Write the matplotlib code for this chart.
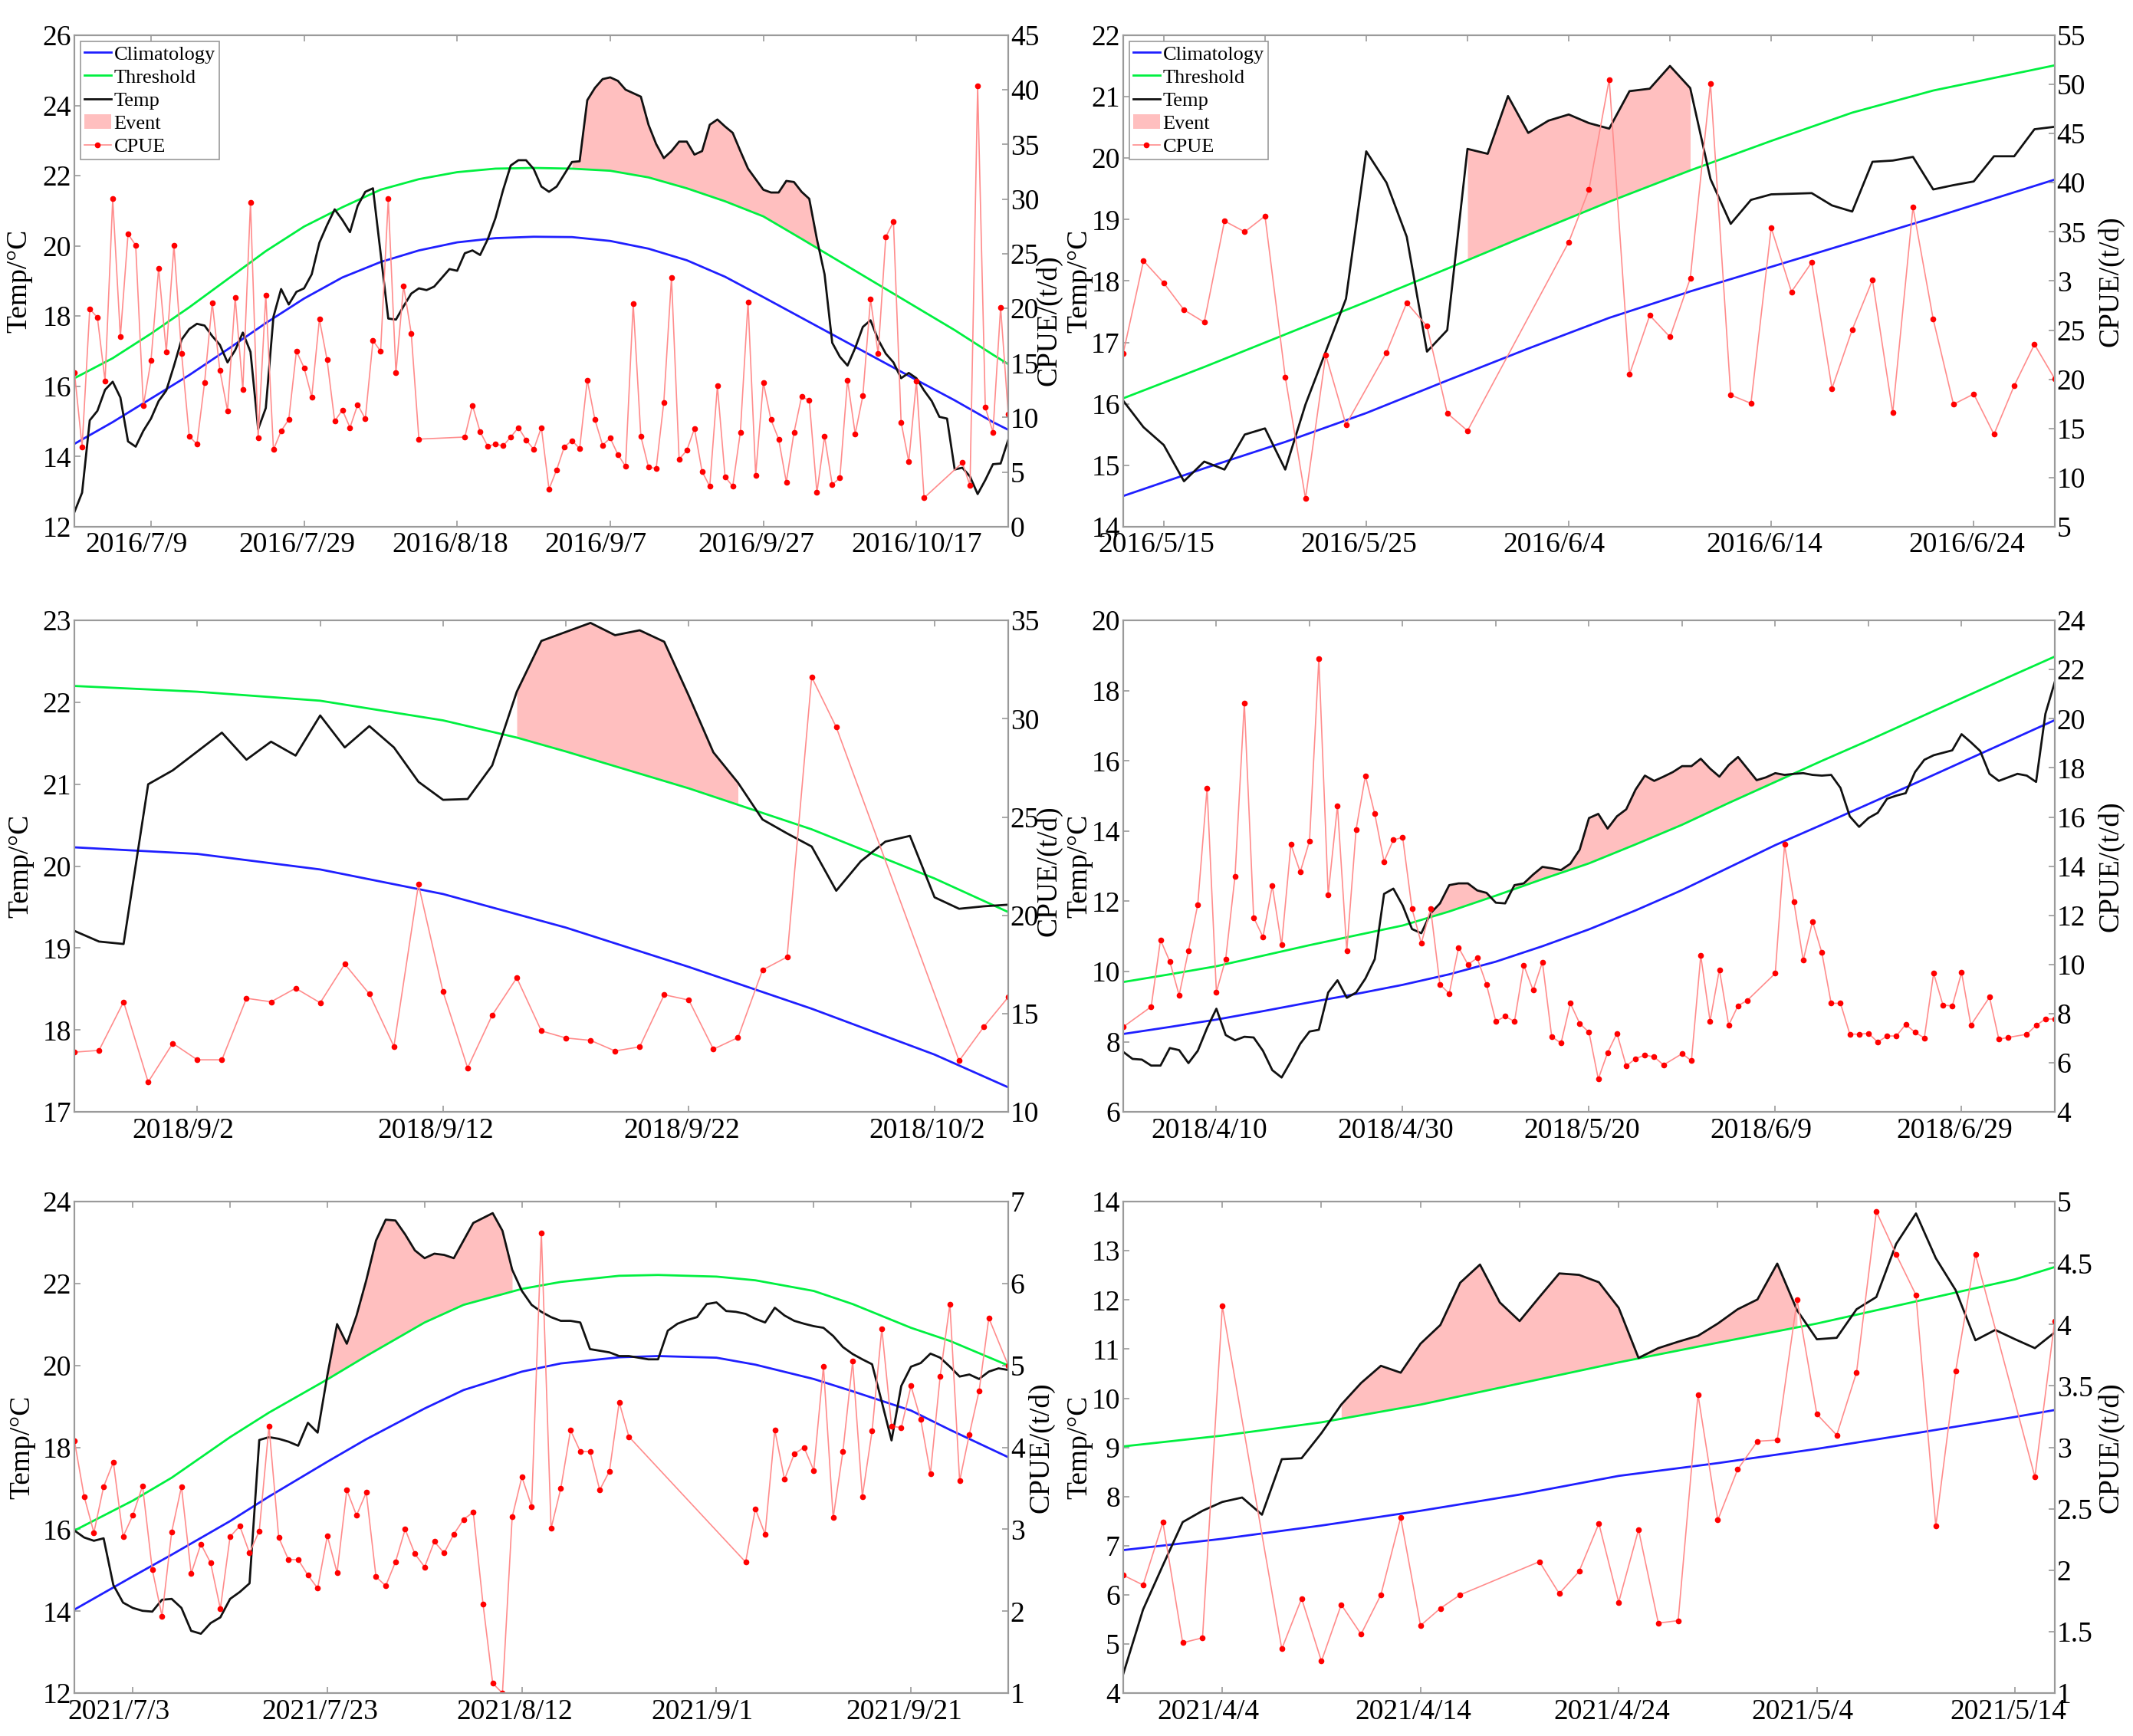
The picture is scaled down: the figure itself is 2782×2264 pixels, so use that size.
import numpy as np
import matplotlib
matplotlib.use('Agg')
import matplotlib.pyplot as plt
from matplotlib.lines import Line2D
from matplotlib.patches import Patch
from matplotlib.transforms import ScaledTranslation

plt.rcParams['font.family'] = ['Liberation Serif', 'DejaVu Serif']

BLUE = '#1f1fff'
GREEN = '#00f040'
EVENT = '#ffbfbf'
CPUE_LINE = '#ff8c8c'
RED = '#ff0000'
AXC = '#9a9a9a'
FS = 27

# ---------- panel 1 : 2016/6/29 - 2016/10/29 (daily temp) ----------
p1_temp = [12.42, 12.97, 15.03, 15.3, 15.9, 16.13, 15.68, 14.43, 14.28, 14.73,
           15.08, 15.58, 15.88, 16.58, 17.33, 17.63, 17.78, 17.73, 17.43, 17.18,
           16.68, 17.03, 17.53, 16.98, 14.78, 15.38, 17.98, 18.77, 18.33, 18.69,
           18.79, 19.19, 20.09, 20.59, 21.04, 20.74, 20.39, 21.14, 21.54, 21.64,
           19.79, 17.93, 17.9, 18.28, 18.64, 18.79, 18.74, 18.84, 19.09, 19.34,
           19.29, 19.79, 19.87, 19.74, 20.19, 20.79, 21.59, 22.29, 22.44, 22.44,
           22.19, 21.69, 21.54, 21.69, 22.04, 22.39, 22.41, 24.15, 24.5, 24.75,
           24.8, 24.7, 24.45, 24.35, 24.25, 23.45, 22.9, 22.5, 22.7, 22.97,
           22.97, 22.6, 22.7, 23.45, 23.6, 23.4, 23.22, 22.7, 22.2, 21.9,
           21.6, 21.52, 21.52, 21.85, 21.82, 21.54, 21.34, 20.19, 19.19, 17.24,
           16.84, 16.59, 17.09, 17.69, 17.88, 17.33, 16.93, 16.68, 16.23, 16.38,
           16.23, 15.88, 15.58, 15.13, 15.08, 13.63, 13.68, 13.43, 12.93, 13.33,
           13.78, 13.8, 14.48]
p1_curve_days = list(range(0, 121, 5)) + [122]
p1_clim = [14.36, 14.98, 15.65, 16.32, 17.05, 17.8, 18.5, 19.1, 19.54, 19.87,
           20.1, 20.22, 20.26, 20.25, 20.14, 19.92, 19.59, 19.12, 18.54, 17.95,
           17.36, 16.77, 16.18, 15.6, 14.98, 14.76]
p1_thr = [16.23, 16.8, 17.5, 18.25, 19.05, 19.85, 20.55, 21.1, 21.6, 21.9,
          22.1, 22.2, 22.22, 22.2, 22.14, 21.95, 21.64, 21.27, 20.84, 20.2,
          19.55, 18.9, 18.25, 17.6, 16.9, 16.63]
p1_event = (65, 97)
p1_cpue_days = list(range(0, 46)) + list(range(51, 112)) + list(range(116, 123))
p1_cpue = [14.14, 7.31, 19.94, 19.16, 13.33, 30.02, 17.39, 26.8, 25.77, 11.08,
           15.2, 23.67, 16.0, 25.77, 15.84, 8.27, 7.56, 13.2, 20.52, 14.3,
           10.62, 21.0, 12.56, 29.7, 8.11, 21.22, 7.05, 8.76, 9.82, 16.07,
           14.56, 11.88, 19.0, 15.3, 9.66, 10.69, 9.08, 11.17, 9.88, 17.04,
           16.07, 30.02, 14.07, 22.06, 17.71, 8.02,
           8.21, 11.11, 8.69, 7.37, 7.56, 7.4, 8.21, 9.08, 7.95,
           7.08, 9.08, 3.44, 5.21, 7.31, 7.89, 7.15, 13.43, 9.79, 7.47,
           8.11, 6.6, 5.53, 20.42, 8.27, 5.44, 5.34, 11.4, 22.84, 6.18,
           6.98, 8.98, 5.05, 3.7, 12.88, 4.57, 3.7, 8.66, 20.58, 4.73,
           13.2, 9.79, 8.02, 4.08, 8.6, 11.91, 11.56, 3.12, 8.27, 3.86,
           4.47, 13.43, 8.5, 11.98, 20.84, 15.84, 26.54, 27.92, 9.56, 5.95, 13.33, 2.64,
           5.86, 3.76, 40.33, 10.92, 8.66, 20.1, 10.3]
p1_xlim = 122
p1_xticks = [10, 30, 50, 70, 90, 110]
p1_xlabels = ['2016/7/9', '2016/7/29', '2016/8/18', '2016/9/7', '2016/9/27', '2016/10/17']
p1_xminor = []

# ---------- panel 2 : 2016/5/13 - 2016/6/28 ----------
p2_temp = [16.05, 15.62, 15.33, 14.74, 15.06, 14.93, 15.5, 15.6, 14.93, 15.99,
           16.85, 17.71, 20.11, 19.6, 18.72, 16.85, 17.2, 20.15, 20.07, 21.01,
           20.41, 20.61, 20.71, 20.57, 20.48, 21.09, 21.13, 21.5, 21.14, 19.66,
           18.93, 19.32, 19.41, 19.42, 19.43, 19.23, 19.13, 19.94, 19.96, 20.02,
           19.49, 19.56, 19.62, 20.03, 20.03, 20.47, 20.51]
p2_curve_days = [0, 4, 8, 12, 16, 20, 24, 28, 32, 36, 40, 46]
p2_clim = [14.5, 14.95, 15.38, 15.85, 16.38, 16.9, 17.4, 17.83, 18.23, 18.63, 19.03, 19.65]
p2_thr = [16.09, 16.6, 17.13, 17.66, 18.2, 18.75, 19.29, 19.8, 20.28, 20.74, 21.1, 21.51]
p2_event = (17, 28)
p2_cpue_days = list(range(0, 12)) + list(range(13, 18)) + list(range(22, 47))
p2_cpue = [22.65, 32.05, 29.8, 27.06, 25.8, 36.1, 35.0, 36.6, 20.24, 7.87, 22.47, 15.37,
           22.72, 27.78, 25.4, 16.55, 14.76,
           33.95, 39.3, 50.5, 20.5, 26.5, 24.3, 30.25, 50.1, 18.4, 17.55, 35.4, 28.9,
           31.9, 19.06, 25.05, 30.1, 16.6, 37.5, 26.1, 17.45, 18.5, 14.4, 19.35, 23.55, 20.05]
p2_xlim = 46
p2_xticks = [2, 12, 22, 32, 42]
p2_xlabels = ['2016/5/15', '2016/5/25', '2016/6/4', '2016/6/14', '2016/6/24']
p2_xminor = [7, 17, 27, 37]

# ---------- panel 3 : 2018/8/28 - 2018/10/5 ----------
p3_temp = [19.21, 19.08, 19.05, 21.0, 21.17, 21.4, 21.63, 21.3, 21.52, 21.35,
           21.84, 21.45, 21.71, 21.45, 21.03, 20.81, 20.82, 21.23, 22.13, 22.75,
           22.86, 22.97, 22.82, 22.88, 22.74, 22.08, 21.39, 21.02, 20.57, 20.4,
           20.24, 19.7, 20.06, 20.3, 20.37, 19.62, 19.48, 19.51, 19.53]
p3_clim_days = [0, 5, 10, 15, 20, 25, 30, 35, 38]
p3_clim = [20.23, 20.15, 19.96, 19.66, 19.25, 18.77, 18.26, 17.7, 17.3]
p3_thr_days = [0, 5, 10, 15, 18, 20, 25, 30, 35, 38]
p3_thr = [22.2, 22.13, 22.02, 21.78, 21.57, 21.4, 20.95, 20.45, 19.85, 19.44]
p3_event = (18, 27)
p3_cpue_days = list(range(0, 32)) + [36, 37, 38]
p3_cpue = [13.04, 13.13, 15.6, 11.52, 13.49, 12.65, 12.65, 15.78, 15.6, 16.29,
           15.55, 17.52, 16.0, 13.33, 21.57, 16.11, 12.24, 14.92, 16.82, 14.12,
           13.76, 13.64, 13.1, 13.31, 15.96, 15.69, 13.19, 13.78, 17.22, 17.88,
           32.12, 29.57, 12.6, 14.32, 15.84]
p3_xlim = 38
p3_xticks = [5, 15, 25, 35]
p3_xlabels = ['2018/9/2', '2018/9/12', '2018/9/22', '2018/10/2']
p3_xminor = [10, 20, 30]

# ---------- panel 4 : 2018/3/31 - 2018/7/9 ----------
p4_temp = [7.71, 7.51, 7.49, 7.32, 7.32, 7.82, 7.76, 7.39, 7.74, 8.39,
           8.94, 8.19, 8.04, 8.14, 8.12, 7.74, 7.19, 6.98, 7.44, 7.94,
           8.29, 8.34, 9.4, 9.75, 9.25, 9.4, 9.8, 10.35, 12.21, 12.36,
           11.88, 11.21, 11.09, 11.66, 11.94, 12.46, 12.51, 12.51, 12.31, 12.24,
           11.96, 11.94, 12.46, 12.51, 12.76, 12.98, 12.94, 12.89, 13.07, 13.47,
           14.37, 14.49, 14.07, 14.42, 14.62, 15.18, 15.58, 15.43, 15.55, 15.68,
           15.85, 15.85, 16.06, 15.78, 15.55, 15.88, 16.11, 15.78, 15.45, 15.53,
           15.65, 15.6, 15.63, 15.65, 15.6, 15.58, 15.6, 15.23, 14.42, 14.12,
           14.37, 14.52, 14.92, 15.01, 15.08, 15.68, 16.03, 16.16, 16.23, 16.3,
           16.76, 16.53, 16.28, 15.63, 15.43, 15.53, 15.63, 15.58, 15.4, 17.34,
           18.24]
p4_curve_days = list(range(0, 101, 5))
p4_clim = [8.22, 8.42, 8.63, 8.87, 9.12, 9.36, 9.62, 9.92, 10.28, 10.72, 11.2,
           11.74, 12.32, 12.96, 13.6, 14.18, 14.77, 15.36, 15.96, 16.56, 17.16]
p4_thr = [9.7, 9.92, 10.15, 10.45, 10.75, 11.03, 11.31, 11.71, 12.16, 12.63, 13.08,
          13.62, 14.18, 14.8, 15.4, 16.0, 16.58, 17.18, 17.78, 18.38, 18.97]
p4_event = (33, 72)
p4_cpue_days = ([0] + list(range(3, 59)) + list(range(60, 68)) + list(range(70, 92))
                + [93, 94, 95, 97, 98, 99, 100])
p4_cpue = [7.46, 8.28, 11.0, 10.12, 8.75, 10.55, 12.44, 17.18,
           8.88, 10.22, 13.59, 20.65, 11.91, 11.12, 13.2, 10.79, 14.88, 13.76,
           15.03, 22.45, 12.84, 16.46, 10.55, 15.5, 17.68, 16.13, 14.19, 15.07,
           15.17, 12.27, 10.86, 12.27, 9.18, 8.82, 10.69, 10.0, 10.26, 9.18,
           7.68, 7.89, 7.68, 9.97, 8.95, 10.1, 7.06, 6.8, 8.42, 7.6,
           7.24, 5.34, 6.41, 7.2, 5.87, 6.17, 6.31, 6.24, 5.91,
           6.37, 6.08, 10.36, 7.7, 9.79, 7.53, 8.32, 8.54,
           9.64, 14.88, 12.54, 10.17, 11.75, 10.48, 8.42, 8.42, 7.17, 7.16,
           7.2, 6.84, 7.09, 7.09, 7.56, 7.24, 7.01, 9.64, 8.35, 8.31,
           9.67, 7.53,
           8.67, 6.96, 7.03, 7.16, 7.52, 7.78, 7.78]
p4_xlim = 100
p4_xticks = [10, 30, 50, 70, 90]
p4_xlabels = ['2018/4/10', '2018/4/30', '2018/5/20', '2018/6/9', '2018/6/29']
p4_xminor = [20, 40, 60, 80]

# ---------- panel 5 : 2021/6/27 - 2021/10/1 ----------
p5_temp = [15.97, 15.8, 15.72, 15.78, 14.64, 14.21, 14.08, 14.01, 13.99, 14.28,
           14.3, 14.08, 13.52, 13.45, 13.71, 13.85, 14.3, 14.47, 14.68, 18.18,
           18.25, 18.21, 18.14, 18.04, 18.6, 18.36, 19.76, 21.01, 20.53, 21.22,
           22.08, 23.05, 23.56, 23.54, 23.2, 22.81, 22.62, 22.73, 22.7, 22.62,
           23.05, 23.48, 23.6, 23.72, 23.29, 22.34, 21.82, 21.48, 21.31, 21.18,
           21.09, 21.09, 21.05, 20.4, 20.36, 20.32, 20.23, 20.23, 20.19, 20.15,
           20.15, 20.85, 21.02, 21.11, 21.18, 21.5, 21.54, 21.33, 21.31, 21.26,
           21.14, 21.05, 21.41, 21.22, 21.09, 21.02, 20.96, 20.92, 20.72, 20.45,
           20.28, 20.15, 20.03, 19.11, 18.17, 19.5, 19.97, 20.06, 20.29, 20.19,
           19.97, 19.73, 19.78, 19.67, 19.85, 19.93, 19.89]
p5_curve_days = [0, 6, 10, 16, 20, 26, 30, 36, 40, 46, 50, 56, 60, 66, 70, 76, 80, 86, 90, 96]
p5_clim = [14.04, 14.85, 15.38, 16.2, 16.8, 17.65, 18.2, 18.95, 19.4, 19.85,
           20.05, 20.2, 20.23, 20.19, 20.02, 19.67, 19.37, 18.9, 18.43, 17.76]
p5_thr = [15.97, 16.7, 17.26, 18.25, 18.85, 19.66, 20.23, 21.05, 21.48, 21.87,
          22.04, 22.19, 22.21, 22.17, 22.08, 21.82, 21.5, 20.92, 20.6, 20.0]
p5_event = (26, 45)
p5_cpue_days = list(range(0, 58)) + list(range(69, 95)) + [96]
p5_cpue = [4.08, 3.4, 2.96, 3.52, 3.82, 2.91, 3.17, 3.53, 2.51, 1.94,
           2.97, 3.52, 2.46, 2.82, 2.59, 2.03, 2.91, 3.04, 2.71, 2.98,
           4.26, 2.9, 2.63, 2.63, 2.44, 2.28, 2.92, 2.47, 3.48, 3.17,
           3.45, 2.42, 2.31, 2.6, 3.0, 2.7, 2.54, 2.85, 2.71, 2.94,
           3.12, 3.21, 2.09, 1.12, 1.0, 3.15, 3.64, 3.28, 6.62, 3.01,
           3.5, 4.21, 3.95, 3.95, 3.48, 3.71, 4.55, 4.13,
           2.6, 3.25, 2.94, 4.21, 3.61, 3.92, 4.0, 3.72, 4.99, 3.14, 3.95,
           5.05, 3.4, 4.2, 5.45, 4.26, 4.24, 4.75, 4.34, 3.68, 4.87,
           5.75, 3.59, 4.16, 4.69, 5.58,
           5.0]
p5_xlim = 96
p5_xticks = [6, 26, 46, 66, 86]
p5_xlabels = ['2021/7/3', '2021/7/23', '2021/8/12', '2021/9/1', '2021/9/21']
p5_xminor = [16, 36, 56, 76]

# ---------- panel 6 : 2021/3/30 - 2021/5/16 ----------
p6_temp = [4.39, 5.7, 6.6, 7.48, 7.71, 7.89, 7.98, 7.63, 8.76, 8.78,
           9.29, 9.87, 10.31, 10.66, 10.52, 11.11, 11.49, 12.35, 12.72, 11.95,
           11.57, 12.06, 12.54, 12.51, 12.36, 11.84, 10.82, 11.02, 11.15, 11.27,
           11.52, 11.81, 12.01, 12.74, 11.79, 11.2, 11.23, 11.81, 12.06, 13.14,
           13.76, 12.85, 12.2, 11.18, 11.39, 11.2, 11.02, 11.34]
p6_curve_days = [0, 5, 10, 15, 20, 25, 30, 35, 40, 45, 47]
p6_clim = [6.91, 7.14, 7.41, 7.71, 8.04, 8.42, 8.68, 8.97, 9.29, 9.62, 9.76]
p6_thr = [9.02, 9.24, 9.51, 9.87, 10.3, 10.73, 11.13, 11.52, 11.97, 12.42, 12.67]
p6_event = (11, 34)
p6_cpue_days = [0, 1, 2, 3, 4, 5] + list(range(8, 18)) + list(range(21, 44)) + [46, 47]
p6_cpue = [1.96, 1.88, 2.39, 1.41, 1.45, 4.15,
           1.36, 1.77, 1.26, 1.72, 1.48, 1.8, 2.43, 1.55, 1.69, 1.8,
           2.07, 1.81, 1.99, 2.38, 1.74, 2.33, 1.57, 1.59, 3.43, 2.41,
           2.82, 3.05, 3.06, 4.2, 3.27, 3.1, 3.61, 4.92, 4.57, 4.24,
           2.36, 3.62, 4.57,
           2.76, 4.03]
p6_xlim = 47
p6_xticks = [5, 15, 25, 35, 45]
p6_xlabels = ['2021/4/4', '2021/4/14', '2021/4/24', '2021/5/4', '2021/5/14']
p6_xminor = [10, 20, 30, 40]

fig = plt.figure(figsize=(27.82, 22.64), dpi=100)

COL = [0.0349, 0.5266]
WID = [0.4378, 0.4367]
ROW = [0.6966, 0.3595, 0.0247]
HGT = 0.2831


def panel(rect, temp, clim_d, clim, thr_d, thr, event, c_days, c_vals,
          xmax, xticks, xlabels, xminor, ylim, ystep, y2ticks, y2labels,
          lab_l, lab_r, legend=False):
    ax = fig.add_axes(rect)
    temp = np.asarray(temp)
    days = np.arange(len(temp))
    thr_on_days = np.interp(days, thr_d, thr)
    w = (days >= event[0]) & (days <= event[1])
    ax.fill_between(days[w], thr_on_days[w], temp[w],
                    where=temp[w] >= thr_on_days[w], interpolate=True,
                    color=EVENT, lw=0)
    ax.plot(clim_d, clim, color=BLUE, lw=2)
    ax.plot(thr_d, thr, color=GREEN, lw=2)
    ax.plot(days, temp, color='#111111', lw=2)
    ax.set_xlim(0, xmax)
    ax.set_ylim(*ylim)
    yt = np.arange(ylim[0], ylim[1] + 0.01, ystep)
    ax.set_yticks(yt)
    ax.set_yticklabels([f'{v:g}' for v in yt])
    ax.set_xticks(xticks)
    ax.set_xticklabels(xlabels)
    ax.set_xticks(xminor, minor=True)
    ax.tick_params(axis='x', which='major', direction='in', top=True, bottom=True,
                   length=6, width=1.2, color=AXC, labelsize=FS, pad=5)
    ax.tick_params(axis='x', which='minor', direction='in', top=True, bottom=False,
                   length=6, width=1.2, color=AXC)
    ax.tick_params(axis='y', direction='in', length=6, width=1.2, color=AXC,
                   labelsize=FS, pad=3)
    ax.set_ylabel('Temp/°C', fontsize=FS)
    ax.yaxis.set_label_coords(lab_l, 0.5)

    ax2 = ax.twinx()
    ax2.plot(c_days, c_vals, color=CPUE_LINE, lw=1.2, marker='o', ms=4.5,
             mfc=RED, mec=RED)
    ax2.set_ylim(y2ticks[0], y2ticks[-1])
    ax2.set_yticks(y2ticks)
    ax2.set_yticklabels(y2labels)
    ax2.tick_params(axis='y', direction='in', length=6, width=1.2, color=AXC,
                    labelsize=FS, pad=2)
    ax2.set_ylabel('CPUE/(t/d)', fontsize=FS)
    ax2.yaxis.set_label_coords(lab_r[0], lab_r[1])
    for a in (ax, ax2):
        for s in a.spines.values():
            s.set_color(AXC)
            s.set_linewidth(1.5)

    # date labels are centred as if padded to 10 characters, so short ones sit left
    for lab in ax.get_xticklabels():
        n = len(lab.get_text())
        shift = ScaledTranslation(-(10 - n) * 6.7 / 72, 0, fig.dpi_scale_trans)
        lab.set_transform(lab.get_transform() + shift)

    if legend:
        handles = [Line2D([], [], color=BLUE, lw=2),
                   Line2D([], [], color=GREEN, lw=2),
                   Line2D([], [], color='#111111', lw=2),
                   Patch(facecolor=EVENT, edgecolor='none'),
                   Line2D([], [], color=CPUE_LINE, lw=1.2, marker='o', ms=4.5,
                          mfc=RED, mec=RED)]
        leg = ax2.legend(handles, ['Climatology', 'Threshold', 'Temp', 'Event', 'CPUE'],
                         loc='upper left', fontsize=19, fancybox=False, framealpha=1,
                         edgecolor=AXC, borderpad=0.2, labelspacing=0.25,
                         handlelength=1.3, handletextpad=0.15, borderaxespad=0.3)
        leg.get_frame().set_linewidth(1.2)
    return ax, ax2


panel([COL[0], ROW[0], WID[0], HGT], p1_temp, p1_curve_days, p1_clim, p1_curve_days, p1_thr,
      p1_event, p1_cpue_days, p1_cpue, p1_xlim, p1_xticks, p1_xlabels, p1_xminor,
      (12, 26), 2, list(range(0, 46, 5)), [str(v) for v in range(0, 46, 5)],
      -0.045, (1.029, 0.42), legend=True)

panel([COL[1], ROW[0], WID[1], HGT], p2_temp, p2_curve_days, p2_clim, p2_curve_days, p2_thr,
      p2_event, p2_cpue_days, p2_cpue, p2_xlim, p2_xticks, p2_xlabels, p2_xminor,
      (14, 22), 1, list(range(5, 56, 5)),
      ['5', '10', '15', '20', '25', '3', '35', '40', '45', '50', '55'],
      -0.033, (1.046, 0.5), legend=True)

panel([COL[0], ROW[1], WID[0], HGT], p3_temp, p3_clim_days, p3_clim, p3_thr_days, p3_thr,
      p3_event, p3_cpue_days, p3_cpue, p3_xlim, p3_xticks, p3_xlabels, p3_xminor,
      (17, 23), 1, list(range(10, 36, 5)), [str(v) for v in range(10, 36, 5)],
      -0.043, (1.029, 0.49))

panel([COL[1], ROW[1], WID[1], HGT], p4_temp, p4_curve_days, p4_clim, p4_curve_days, p4_thr,
      p4_event, p4_cpue_days, p4_cpue, p4_xlim, p4_xticks, p4_xlabels, p4_xminor,
      (6, 20), 2, list(range(4, 25, 2)), [str(v) for v in range(4, 25, 2)],
      -0.033, (1.046, 0.5))

panel([COL[0], ROW[2], WID[0], HGT], p5_temp, p5_curve_days, p5_clim, p5_curve_days, p5_thr,
      p5_event, p5_cpue_days, p5_cpue, p5_xlim, p5_xticks, p5_xlabels, p5_xminor,
      (12, 24), 2, list(range(1, 8)), [str(v) for v in range(1, 8)],
      -0.042, (1.021, 0.5))

panel([COL[1], ROW[2], WID[1], HGT], p6_temp, p6_curve_days, p6_clim, p6_curve_days, p6_thr,
      p6_event, p6_cpue_days, p6_cpue, p6_xlim, p6_xticks, p6_xlabels, p6_xminor,
      (4, 14), 1, [1, 1.5, 2, 2.5, 3, 3.5, 4, 4.5, 5],
      ['1', '1.5', '2', '2.5', '3', '3.5', '4', '4.5', '5'],
      -0.033, (1.046, 0.5))

fig.savefig('out.png', dpi=100)
